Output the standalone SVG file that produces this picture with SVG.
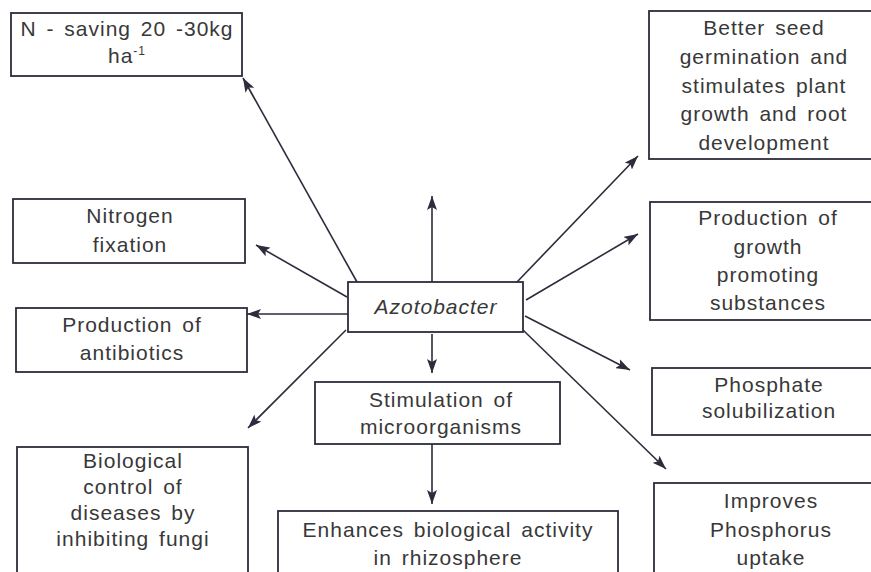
<svg xmlns="http://www.w3.org/2000/svg" width="871" height="572" viewBox="0 0 871 572">
<defs>
<style>
.box{fill:#fff;stroke:#2c2c3c;stroke-width:1.8}
.t{font-family:"Liberation Sans",Arial,sans-serif;font-size:21px;letter-spacing:1px;word-spacing:3px;fill:#383838;text-anchor:middle}
.c{stroke:#2c2c3c;stroke-width:1.6;fill:none;marker-end:url(#ah)}
</style>
<marker id="ah" viewBox="0 0 14 10" refX="14" refY="5" markerWidth="14" markerHeight="10" markerUnits="userSpaceOnUse" orient="auto">
<path d="M0,0 L14,5 L0,10 L3,5 Z" fill="#2c2c3c"/>
</marker>
</defs>
<rect width="871" height="572" fill="#fff"/>
<g id="connectors">
<line class="c" x1="357" y1="282" x2="243" y2="78"/>
<line class="c" x1="347" y1="297" x2="256" y2="245"/>
<line class="c" x1="348" y1="314" x2="247" y2="314"/>
<line class="c" x1="346" y1="330" x2="248" y2="428"/>
<line class="c" x1="432" y1="282" x2="432" y2="196"/>
<line class="c" x1="432" y1="334" x2="432" y2="373"/>
<line class="c" x1="432" y1="444" x2="432" y2="504"/>
<line class="c" x1="517" y1="282" x2="638" y2="156"/>
<line class="c" x1="526" y1="300" x2="638" y2="234"/>
<line class="c" x1="525" y1="316" x2="630" y2="370"/>
<line class="c" x1="523" y1="330" x2="666" y2="469"/>
</g>
<g id="n-saving">
<rect class="box" x="11" y="13" width="231" height="63"/>
<text class="t" x="127" y="36">N - saving 20 -30kg</text>
<text class="t" x="127" y="63">ha<tspan font-size="12" dy="-8">-1</tspan></text>
</g>
<g id="better-seed">
<rect class="box" x="649" y="11" width="230" height="148"/>
<text class="t" x="764" y="35">Better seed</text>
<text class="t" x="764" y="64">germination and</text>
<text class="t" x="764" y="93">stimulates plant</text>
<text class="t" x="764" y="121">growth and root</text>
<text class="t" x="764" y="150">development</text>
</g>
<g id="nitrogen">
<rect class="box" x="13" y="199" width="232" height="64"/>
<text class="t" x="130" y="223">Nitrogen</text>
<text class="t" x="130" y="252">fixation</text>
</g>
<g id="antibiotics">
<rect class="box" x="16" y="308" width="231" height="64"/>
<text class="t" x="132" y="332">Production of</text>
<text class="t" x="132" y="360">antibiotics</text>
</g>
<g id="azotobacter">
<rect class="box" x="348" y="282" width="175" height="50"/>
<text class="t" x="436" y="314" font-style="italic">Azotobacter</text>
</g>
<g id="stimulation">
<rect class="box" x="315" y="382" width="245" height="62"/>
<text class="t" x="441" y="407">Stimulation of</text>
<text class="t" x="441" y="434">microorganisms</text>
</g>
<g id="biological">
<rect class="box" x="17" y="447" width="231" height="135"/>
<text class="t" x="133" y="468">Biological</text>
<text class="t" x="133" y="494">control of</text>
<text class="t" x="133" y="520">diseases by</text>
<text class="t" x="133" y="546">inhibiting fungi</text>
</g>
<g id="enhances">
<rect class="box" x="278" y="511" width="340" height="70"/>
<text class="t" x="448" y="537">Enhances biological activity</text>
<text class="t" x="448" y="565">in rhizosphere</text>
</g>
<g id="growth">
<rect class="box" x="650" y="202" width="230" height="118"/>
<text class="t" x="768" y="225">Production of</text>
<text class="t" x="768" y="254">growth</text>
<text class="t" x="768" y="282">promoting</text>
<text class="t" x="768" y="310">substances</text>
</g>
<g id="phosphate">
<rect class="box" x="652" y="368" width="230" height="67"/>
<text class="t" x="769" y="392">Phosphate</text>
<text class="t" x="769" y="418">solubilization</text>
</g>
<g id="improves">
<rect class="box" x="654" y="483" width="230" height="100"/>
<text class="t" x="771" y="508">Improves</text>
<text class="t" x="771" y="537">Phosphorus</text>
<text class="t" x="771" y="565">uptake</text>
</g>
</svg>
